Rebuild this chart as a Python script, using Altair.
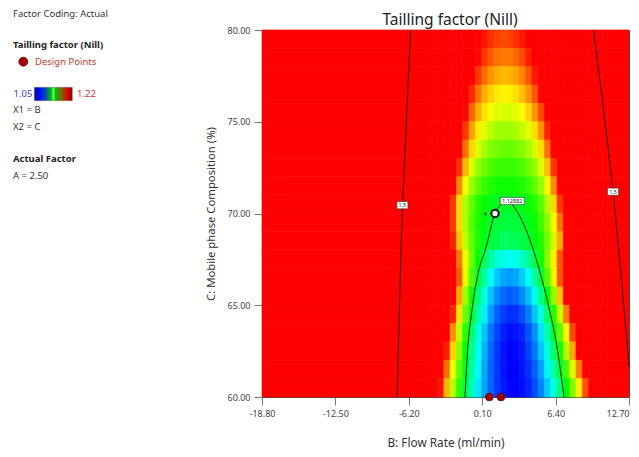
import altair as alt
import pandas as pd

FONT = "Noto Sans"
R = 1.25  # cells beyond the top of the colour scale (drawn red)

# ---- response grid (Tailling factor) ----
X_EDGES = [-18.8, -4.81, -4.27, -3.73, -3.19, -2.65, -2.11, -1.57, -1.03, -0.49, 0.05,
           0.59, 1.13, 1.67, 2.21, 2.75, 3.29, 3.83, 4.37, 4.91, 5.45, 5.99, 6.53,
           7.07, 7.61, 8.15, 8.69, 9.23, 9.77, 10.31, 10.85, 12.7]
Y_EDGES = [80, 79, 78, 77, 76, 75, 74, 73, 72, 71, 70, 69, 68, 67, 66, 65, 64, 63, 62, 61, 60]

GRID = [
    [R] * 10 + [1.217, 1.212, 1.209, 1.208, 1.209, 1.212, 1.216] + [R] * 14,
    [R] * 9 + [1.219, 1.211, 1.205, 1.201, 1.200, 1.200, 1.203, 1.208, 1.215] + [R] * 13,
    [R] * 9 + [1.211, 1.202, 1.195, 1.191, 1.189, 1.190, 1.193, 1.198, 1.206, 1.216] + [R] * 12,
    [R] * 8 + [1.213, 1.201, 1.191, 1.185, 1.181, 1.179, 1.180, 1.183, 1.188, 1.196, 1.206, 1.220] + [R] * 11,
    [R] * 7 + [1.219, 1.203, 1.191, 1.182, 1.176, 1.172, 1.171, 1.171, 1.173, 1.178, 1.185, 1.195, 1.208] + [R] * 11,
    [R] * 7 + [1.211, 1.193, 1.181, 1.172, 1.166, 1.162, 1.161, 1.161, 1.163, 1.167, 1.173, 1.183, 1.196, 1.214] + [R] * 10,
    [R] * 7 + [1.201, 1.184, 1.171, 1.163, 1.157, 1.154, 1.152, 1.152, 1.154, 1.157, 1.163, 1.171, 1.183, 1.201] + [R] * 10,
    [R] * 6 + [1.212, 1.189, 1.172, 1.160, 1.153, 1.148, 1.145, 1.144, 1.144, 1.145, 1.148, 1.153, 1.160, 1.172, 1.188, 1.211] + [R] * 9,
    [R] * 6 + [1.198, 1.176, 1.161, 1.151, 1.144, 1.140, 1.138, 1.137, 1.137, 1.138, 1.140, 1.144, 1.151, 1.161, 1.176, 1.197] + [R] * 9,
    [R] * 5 + [1.211, 1.184, 1.164, 1.151, 1.141, 1.136, 1.132, 1.130, 1.129, 1.129, 1.130, 1.132, 1.136, 1.141, 1.150, 1.164, 1.184, 1.211] + [R] * 8,
    [R] * 5 + [1.211, 1.184, 1.164, 1.149, 1.139, 1.133, 1.129, 1.126, 1.125, 1.125, 1.126, 1.128, 1.131, 1.137, 1.146, 1.158, 1.176, 1.201] + [R] * 8,
    [R] * 5 + [1.214, 1.187, 1.167, 1.151, 1.139, 1.131, 1.126, 1.122, 1.120, 1.120, 1.121, 1.123, 1.127, 1.133, 1.141, 1.154, 1.170, 1.192, 1.220] + [R] * 7,
    [R] * 6 + [1.200, 1.175, 1.153, 1.135, 1.120, 1.108, 1.100, 1.096, 1.094, 1.096, 1.102, 1.110, 1.123, 1.138, 1.157, 1.180, 1.206] + [R] * 8,
    [R] * 6 + [1.205, 1.174, 1.148, 1.126, 1.108, 1.094, 1.083, 1.078, 1.076, 1.078, 1.084, 1.094, 1.108, 1.126, 1.149, 1.175, 1.206] + [R] * 8,
    [R] * 6 + [1.192, 1.162, 1.137, 1.115, 1.097, 1.083, 1.073, 1.068, 1.065, 1.067, 1.073, 1.082, 1.095, 1.113, 1.133, 1.159, 1.188, 1.220] + [R] * 7,
    [R] * 5 + [1.214, 1.182, 1.153, 1.128, 1.107, 1.090, 1.076, 1.066, 1.060, 1.057, 1.058, 1.063, 1.071, 1.083, 1.099, 1.118, 1.141, 1.168, 1.199] + [R] * 7,
    [R] * 5 + [1.196, 1.167, 1.141, 1.118, 1.098, 1.083, 1.070, 1.061, 1.055, 1.052, 1.053, 1.056, 1.064, 1.074, 1.088, 1.106, 1.127, 1.151, 1.178, 1.208] + [R] * 6,
    [R] * 4 + [1.215, 1.185, 1.158, 1.134, 1.112, 1.094, 1.080, 1.068, 1.059, 1.053, 1.050, 1.051, 1.054, 1.061, 1.070, 1.083, 1.098, 1.117, 1.139, 1.164, 1.192] + [R] * 6,
    [R] * 4 + [1.202, 1.174, 1.150, 1.128, 1.108, 1.092, 1.078, 1.067, 1.059, 1.053, 1.050, 1.050, 1.053, 1.058, 1.066, 1.077, 1.091, 1.107, 1.126, 1.147, 1.172, 1.199] + [R] * 5,
    [R] * 3 + [1.217, 1.190, 1.165, 1.143, 1.122, 1.105, 1.089, 1.077, 1.067, 1.059, 1.054, 1.051, 1.050, 1.052, 1.056, 1.063, 1.072, 1.084, 1.098, 1.115, 1.134, 1.156, 1.180, 1.206] + [R] * 4,
]

# ---- contour lines ----
C1_X = [-1.38, -1.12, -0.80, -0.35, 0.49, 1.20, 1.68, 2.19, 2.69, 3.17, 4.35, 5.21, 5.92, 6.49, 7.12]
C1_Y = [60.00, 62.83, 64.63, 66.45, 68.28, 70.03, 70.46, 70.64, 70.46, 70.03, 68.28, 66.45, 64.63, 62.83, 60.00]
L15_X = [-7.19, -6.90, -6.44, -6.04]
L15_Y = [60.00, 67.30, 74.55, 80.00]
R15_X = [9.64, 10.38, 11.33, 12.70]
R15_Y = [80.00, 76.35, 71.17, 61.70]

LBL_TEXT = ["1.5", "1.12882", "1.5"]
LBL_X = [-6.75, 2.68, 11.33]
LBL_Y = [70.45, 70.68, 71.19]

# ---- design points ----
DP_X = [0.71, 1.71]
DP_Y = [60.0, 60.0]
CUR_X = [1.20]
CUR_Y = [70.0]
CUR_LBL = ["4"]

X_TICKS = [-18.8, -12.5, -6.2, 0.1, 6.4, 12.7]
Y_TICKS = [60, 65, 70, 75, 80]

# ---------------------------------------------------------------
rows = []
for i, row in enumerate(GRID):
    assert len(row) == len(X_EDGES) - 1, (i, len(row))
    for j, v in enumerate(row):
        rows.append({"x": X_EDGES[j], "x2": X_EDGES[j + 1],
                     "y": Y_EDGES[i + 1], "y2": Y_EDGES[i], "v": v})
heat_df = pd.DataFrame(rows)

line_rows = []
for name, xs_, ys_ in [("c1", C1_X, C1_Y), ("l15", L15_X, L15_Y), ("r15", R15_X, R15_Y)]:
    for k, (a, b) in enumerate(zip(xs_, ys_)):
        line_rows.append({"x": a, "y": b, "line": name, "o": k})
line_df = pd.DataFrame(line_rows)

lbl_df = pd.DataFrame({"x": LBL_X, "y": LBL_Y, "t": LBL_TEXT})
dp_df = pd.DataFrame({"x": DP_X, "y": DP_Y})
cur_df = pd.DataFrame({"x": CUR_X, "y": CUR_Y, "t": CUR_LBL})
one = pd.DataFrame({"a": [0]})

xs = alt.Scale(domain=[-18.8, 12.7], nice=False, zero=False)
ys = alt.Scale(domain=[60, 80], nice=False, zero=False)
x_axis = alt.Axis(values=X_TICKS, grid=False, domain=False,
                  labelExpr="replace(format(datum.value, '.2f'), '\u2212', '-')",
                  labelAlign={"condition": {"test": "datum.value > 12", "value": "right"},
                              "value": "center"},
                  labelFont=FONT, labelFontSize=9, labelColor="#444", labelPadding=4,
                  tickColor="#777", tickSize=8, labelFlush=False,
                  title="B: Flow Rate (ml/min)", titleFont=FONT, titleFontSize=11.8,
                  titleFontWeight="normal", titleColor="#333", titlePadding=19)
y_axis = alt.Axis(values=Y_TICKS, grid=False, domain=False, format=".2f",
                  labelFont=FONT, labelFontSize=9, labelColor="#444", labelPadding=4,
                  tickColor="#777", tickSize=8,
                  title="C: Mobile phase Composition (%)", titleFont=FONT, titleFontSize=11.3,
                  titleFontWeight="normal", titleColor="#333", titlePadding=10)


def X(f="x"):
    return alt.X(f + ":Q", scale=xs, axis=x_axis, title="B: Flow Rate (ml/min)")


def Y(f="y"):
    return alt.Y(f + ":Q", scale=ys, axis=y_axis, title="C: Mobile phase Composition (%)")


cscale = alt.Scale(domain=[1.05, 1.0925, 1.135, 1.1775, 1.22],
                   range=["#0000ff", "#00ffff", "#00ff00", "#ffff00", "#ff0000"],
                   clamp=True, interpolate="rgb")

heat = alt.Chart(heat_df).mark_rect(strokeWidth=0.7).encode(
    x=X(), x2="x2:Q", y=Y(), y2="y2:Q",
    fill=alt.Fill("v:Q", scale=cscale, legend=None),
    stroke=alt.Stroke("v:Q", scale=cscale, legend=None),
)

lines = alt.Chart(line_df).mark_line(color="#111", strokeWidth=0.9, interpolate="monotone").encode(
    x=X(), y=Y(), detail="line:N", order="o:Q")

box_small = alt.Chart(lbl_df[lbl_df["t"] == "1.5"]).mark_point(
    shape="M-1,-0.65H1V0.65H-1Z", size=121, filled=True, fill="white",
    stroke="#333", strokeWidth=0.6, opacity=1).encode(x=X(), y=Y())
box_big = alt.Chart(lbl_df[lbl_df["t"] != "1.5"]).mark_point(
    shape="M-1,-0.3H1V0.3H-1Z", size=576, filled=True, fill="white",
    stroke="#333", strokeWidth=0.6, opacity=1).encode(x=X(), y=Y())
lbl_text = alt.Chart(lbl_df).mark_text(font=FONT, fontSize=5.5, color="#222").encode(
    x=X(), y=Y(), text="t:N")

dps = alt.Chart(dp_df).mark_point(shape="circle", size=60, filled=True, fill="#a30000",
                                  stroke="#6a0000", strokeWidth=0.8, opacity=1).encode(x=X(), y=Y())
cur = alt.Chart(cur_df).mark_point(shape="circle", size=55, filled=True, fill="white",
                                   stroke="#111", strokeWidth=2, opacity=1).encode(x=X(), y=Y())
cur_t = alt.Chart(cur_df).mark_text(font=FONT, fontSize=6, color="#222", dx=-8, align="right").encode(
    x=X(), y=Y(), text="t:N")


def txt(s, x, y, size=9.5, color="#333", weight="normal", align="left"):
    return alt.Chart(one).mark_text(font=FONT, fontSize=size, color=color, fontWeight=weight,
                                    align=align, baseline="middle").encode(
        x=alt.value(x), y=alt.value(y), text=alt.value(s))


OX, OY = 262, 30  # plot origin on the page, used only to place the side panel
panel = [
    txt("Tailling factor (Nill)", 450 - OX, 19.5 - OY, size=15.5, color="#222", align="center"),
    txt("Factor Coding: Actual", 13 - OX, 13.5 - OY),
    txt("Tailling factor (Nill)", 13 - OX, 45 - OY, weight="bold", color="#222"),
    alt.Chart(one).mark_point(shape="circle", size=80, filled=True, fill="#a30000",
                              stroke="#6a0000", strokeWidth=0.8, opacity=1).encode(
        x=alt.value(23.3 - OX), y=alt.value(61.7 - OY)),
    txt("Design Points", 35 - OX, 61.7 - OY, color="#c0392b"),
    txt("1.05", 13.5 - OX, 94 - OY, color="#4040c8"),
    alt.Chart(one).mark_rect(
        fill=alt.Gradient(gradient="linear", x1=0, x2=1, y1=0, y2=0, stops=[
            alt.GradientStop(offset=0, color="#101070"),
            alt.GradientStop(offset=0.12, color="#0000ff"),
            alt.GradientStop(offset=0.3, color="#0050b0"),
            alt.GradientStop(offset=0.45, color="#00c000"),
            alt.GradientStop(offset=0.5, color="#70ff70"),
            alt.GradientStop(offset=0.56, color="#00c000"),
            alt.GradientStop(offset=0.72, color="#806000"),
            alt.GradientStop(offset=0.88, color="#e00000"),
            alt.GradientStop(offset=1, color="#800000")]),
        stroke="#777", strokeWidth=0.5).encode(
        x=alt.value(34.3 - OX), x2=alt.value(72.3 - OX),
        y=alt.value(87.3 - OY), y2=alt.value(100.7 - OY)),
    txt("1.22", 77 - OX, 94 - OY, color="#d03030"),
    txt("X1 = B", 13 - OX, 109.5 - OY),
    txt("X2 = C", 13 - OX, 126.7 - OY),
    txt("Actual Factor", 13 - OX, 159.3 - OY, weight="bold", color="#222"),
    txt("A = 2.50", 13 - OX, 175.5 - OY),
]

chart = alt.layer(heat, lines, box_small, box_big, lbl_text, dps, cur, cur_t, *panel).properties(
    width=367, height=367,
    autosize=alt.AutoSizeParams(type="none"),
    padding={"left": OX - 8, "top": OY - 8, "right": 2, "bottom": 52},
).configure_view(stroke="#444", strokeWidth=1)

chart.save("out.html", embed_options={"renderer": "svg", "actions": False})
